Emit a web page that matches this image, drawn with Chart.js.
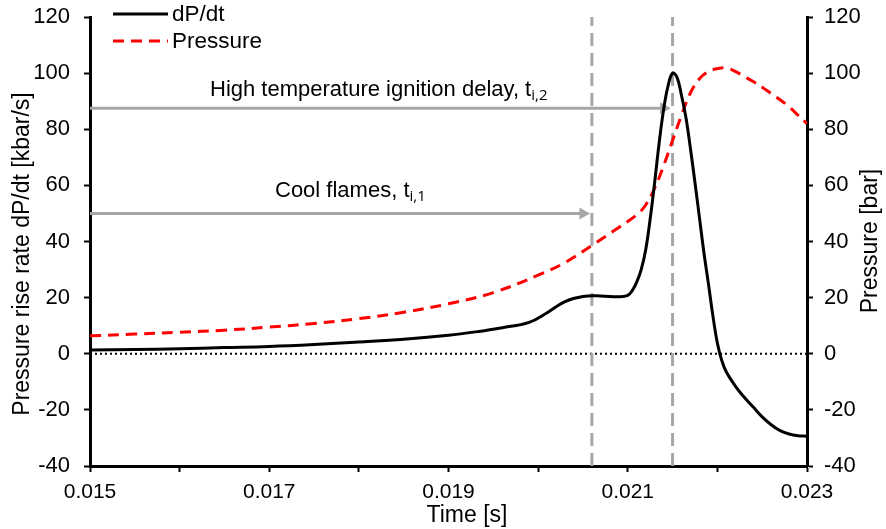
<!DOCTYPE html>
<html>
<head>
<meta charset="utf-8">
<script src="https://cdn.jsdelivr.net/npm/chart.js@4/dist/chart.umd.min.js"></script>
<style>
  body { margin: 0; background: #fff; }
  #wrap { width: 886px; height: 529px; }
</style>
</head>
<body>
<div id="wrap"><canvas id="c" width="886" height="529"></canvas></div>
<script>
// dP/dt curve
const tDp = [0.015, 0.0155, 0.016, 0.0165, 0.017, 0.0175, 0.018, 0.0185, 0.019, 0.0193, 0.0196, 0.0199,
  0.0201, 0.0203, 0.0205, 0.0207, 0.0209, 0.021, 0.02105, 0.0211, 0.02115, 0.0212, 0.02125, 0.0213,
  0.02135, 0.0214, 0.02145, 0.0215, 0.02155, 0.0216, 0.02165, 0.0217, 0.02175, 0.0218, 0.02185, 0.0219,
  0.02195, 0.022, 0.02205, 0.0221, 0.0222, 0.0223, 0.0224, 0.0225, 0.0226, 0.0227, 0.0228, 0.0229, 0.023]
const dpdt = [1.3, 1.5, 1.8, 2.2, 2.6, 3.3, 4.2, 5.2, 6.6, 7.8, 9.3, 11.2,
  14.6, 18.6, 20.4, 20.6, 20.3, 20.8, 22.5, 25.5, 30, 37, 48, 61,
  75, 87, 95.5, 100, 98.5, 92, 84, 73, 61, 48.5, 36, 25,
  13.5, 3.8, -2.5, -6.5, -11.5, -15.5, -19, -22.5, -25.3, -27.4, -28.6, -29.2, -29.4]

// pressure curve
const tP = [0.015, 0.0155, 0.016, 0.0165, 0.017, 0.0175, 0.018, 0.0185, 0.019, 0.0195, 0.02, 0.0203,
  0.0206, 0.0209, 0.0211, 0.0212, 0.0213, 0.0214, 0.0215, 0.0216, 0.0217, 0.0218, 0.0219, 0.022,
  0.0221, 0.0222, 0.0223, 0.0224, 0.0225, 0.0226, 0.0227, 0.0228, 0.0229, 0.023]
const pressure = [6.4, 7, 7.7, 8.4, 9.5, 10.8, 12.5, 14.8, 17.8, 21.8, 28, 32.5,
  38.6, 45, 49.5, 53, 59, 67, 76, 85, 93, 98, 100.6, 101.6,
  101.8, 100.6, 98.8, 97, 95, 92.7, 90.5, 88, 85, 82]

const coolFlameT = 0.0206
const ignitionT = 0.0215
const coolArrow = [[0.015, 50], [0.0205, 50]]
const ignArrow = [[0.015, 87.5], [0.0214, 87.5]]
const xTicks = [0.015, 0.017, 0.019, 0.021, 0.023]

const pts = (xs, ys) => xs.map((x, i) => ({x: x, y: ys[i]}))
const grey = '#a6a6a6'
const font = 'Liberation Sans, Arial, sans-serif'

const arrowHead = ctx => ctx.dataIndex === 1 ? 7 : 0

const overlay = {
  id: 'overlay',
  afterDraw(chart) {
    const c = chart.ctx
    const y = chart.scales.y
    c.save()
    c.fillStyle = '#000'
    c.textBaseline = 'alphabetic'
    // annotation texts
    const label = (main, sub, px, py) => {
      c.font = '22px ' + font
      c.fillText(main, px, py)
      const w = c.measureText(main).width
      c.font = '15px "Open Sans", sans-serif'
      c.fillText(sub, px + w, py + 4)
    }
    label('High temperature ignition delay, t', 'i,2', 210, y.getPixelForValue(ignArrow[0][1]) - 12)
    label('Cool flames, t', 'i,1', 275, y.getPixelForValue(coolArrow[0][1]) - 16)

    // legend
    const items = [chart.data.datasets[0], chart.data.datasets[1]]
    items.forEach((d, i) => {
      const ly = 14 + i * 27
      c.strokeStyle = d.borderColor
      c.lineWidth = 3
      c.setLineDash(d.borderDash || [])
      c.beginPath()
      c.moveTo(113, ly)
      c.lineTo(168, ly)
      c.stroke()
      c.setLineDash([])
      c.font = '22.5px ' + font
      c.textBaseline = 'middle'
      c.fillText(d.label, 172, ly + 1)
    })

    // axis titles
    c.textAlign = 'center'
    c.textBaseline = 'middle'
    c.font = '23px ' + font
    c.fillText('Time [s]', 467, 516)
    const vtext = (txt, px, py) => {
      c.save()
      c.translate(px, py)
      c.rotate(-Math.PI / 2)
      c.fillText(txt, 0, 0)
      c.restore()
    }
    vtext('Pressure rise rate dP/dt [kbar/s]', 23, 254)
    vtext('Pressure [bar]', 871, 241)
    c.restore()
  }
}

const yTickCb = v => (Math.round(v) % 20 === 0 ? v : '')

new Chart(document.getElementById('c'), {
  type: 'line',
  data: {
    datasets: [
      { label: 'dP/dt', data: pts(tDp, dpdt), borderColor: '#000', borderWidth: 3,
        pointRadius: 0, tension: 0.4, yAxisID: 'y', order: 0 },
      { label: 'Pressure', data: pts(tP, pressure), borderColor: '#ff0000', borderWidth: 3,
        borderDash: [11, 7], pointRadius: 0, tension: 0.4, yAxisID: 'y2', order: 1 },
      { label: 'ign arrow', data: ignArrow.map(p => ({x: p[0], y: p[1]})), borderColor: grey, borderWidth: 3,
        pointRadius: arrowHead, pointStyle: 'triangle', rotation: 90, pointBackgroundColor: grey,
        pointBorderColor: grey, pointBorderWidth: 0, yAxisID: 'y', order: 2 },
      { label: 'cool arrow', data: coolArrow.map(p => ({x: p[0], y: p[1]})), borderColor: grey, borderWidth: 3,
        pointRadius: arrowHead, pointStyle: 'triangle', rotation: 90, pointBackgroundColor: grey,
        pointBorderColor: grey, pointBorderWidth: 0, yAxisID: 'y', order: 2 },
      { label: 'cool', data: [{x: coolFlameT, y: -40}, {x: coolFlameT, y: 120}], borderColor: grey,
        borderWidth: 3, borderDash: [13, 7], pointRadius: 0, yAxisID: 'y', order: 3 },
      { label: 'ign', data: [{x: ignitionT, y: -40}, {x: ignitionT, y: 120}], borderColor: grey,
        borderWidth: 3, borderDash: [13, 7], pointRadius: 0, yAxisID: 'y', order: 3 },
      { label: 'zero', data: [{x: 0.015, y: 0}, {x: 0.023, y: 0}], borderColor: '#000',
        borderWidth: 2, borderDash: [2, 3], pointRadius: 0, yAxisID: 'y', order: 4 }
    ]
  },
  options: {
    responsive: false,
    animation: false,
    layout: { padding: { top: 17, left: 0, right: 0, bottom: 0 } },
    plugins: { legend: { display: false }, tooltip: { enabled: false } },
    scales: {
      x: {
        type: 'linear', min: 0.015, max: 0.023,
        afterBuildTicks: s => { s.ticks = [0.015, 0.016, 0.017, 0.018, 0.019, 0.02, 0.021, 0.022, 0.023].map(v => ({value: v})) },
        ticks: {
          autoSkip: false, maxRotation: 0, color: '#000', padding: 8,
          font: { family: font, size: 21 },
          callback: v => (xTicks.some(t => Math.abs(t - v) < 1e-9) ? v.toFixed(3) : '')
        },
        grid: { drawOnChartArea: false, tickLength: 6, tickColor: '#000', tickWidth: 2 },
        border: { color: '#000', width: 3 },
        afterFit: s => { s.height = 63 }
      },
      y: {
        position: 'left', min: -40, max: 120,
        ticks: { stepSize: 10, color: '#000', padding: 14, font: { family: font, size: 22 }, callback: yTickCb },
        grid: { drawOnChartArea: false, tickLength: 6, tickColor: '#000', tickWidth: 2 },
        border: { color: '#000', width: 3 },
        afterFit: s => { s.width = 90; s.paddingTop = 10; s.paddingBottom = 10 }
      },
      y2: {
        position: 'right', min: -40, max: 120,
        ticks: { stepSize: 10, color: '#000', padding: 11, font: { family: font, size: 22 }, callback: yTickCb },
        grid: { drawOnChartArea: false, tickLength: 6, tickColor: '#000', tickWidth: 2 },
        border: { color: '#000', width: 3 },
        afterFit: s => { s.width = 79; s.paddingTop = 10; s.paddingBottom = 10 }
      }
    }
  },
  plugins: [overlay]
})
</script>
</body>
</html>
